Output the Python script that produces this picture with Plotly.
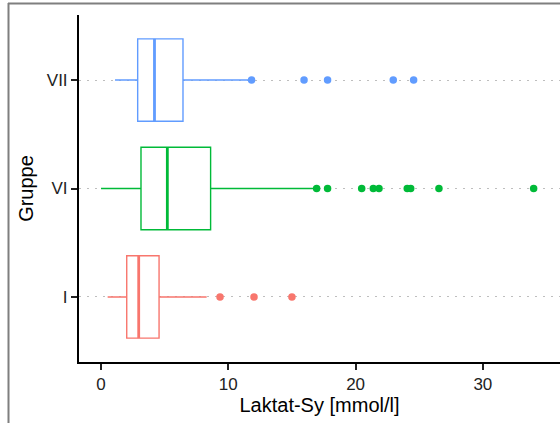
import plotly.graph_objects as go

groups = ["I", "VI", "VII"]
colors = ["#F8766D", "#00BA38", "#619CFF"]
lower_whisker = [0.52, 0.0, 1.1]
q1 = [2.02, 3.14, 2.88]
median = [2.96, 5.21, 4.2]
q3 = [4.56, 8.61, 6.44]
upper_whisker = [8.3, 16.75, 11.7]
outliers = [
    [9.35, 12.02, 15.0],
    [16.94, 17.8, 20.48, 21.39, 21.84, 24.06, 24.33, 26.55, 33.99],
    [11.83, 15.95, 17.8, 22.96, 24.56],
]

W, H = 560, 423
L, R, T, B = 79, 0, 15, 61
pw, ph = W - L - R, H - T - B
half = 0.38

fig = go.Figure()
for i, g in enumerate(groups):
    pos = i + 1
    fig.add_trace(go.Box(
        y=[pos], q1=[q1[i]], median=[median[i]], q3=[q3[i]],
        lowerfence=[lower_whisker[i]], upperfence=[upper_whisker[i]],
        orientation="h", width=2 * half, whiskerwidth=0,
        fillcolor="white", line=dict(color=colors[i], width=1.4),
        boxpoints=False, showlegend=False, hoverinfo="skip",
    ))
    fig.add_trace(go.Scatter(
        x=[median[i], median[i]], y=[pos - half, pos + half],
        mode="lines", line=dict(color=colors[i], width=2.8),
        showlegend=False, hoverinfo="skip",
    ))
    fig.add_trace(go.Scatter(
        x=outliers[i], y=[pos] * len(outliers[i]),
        mode="markers", marker=dict(color=colors[i], size=7.5),
        showlegend=False, hoverinfo="skip",
    ))

def px_x(px):
    return (px - L) / pw

def px_y(py):
    return (H - B - py) / ph

fig.update_layout(
    width=W, height=H,
    margin=dict(l=L, r=R, t=T, b=B),
    plot_bgcolor="white", paper_bgcolor="white",
    font=dict(family="Liberation Sans, Arial, sans-serif", color="#1a1a1a"),
    xaxis=dict(
        range=[-1.73, 36.06], tickvals=[0, 10, 20, 30],
        showgrid=False, zeroline=False,
        showline=True, linecolor="black", linewidth=2,
        ticks="outside", ticklen=6, tickwidth=1.5, tickcolor="#222222",
        tickfont=dict(size=17, color="#222222"),
        title=dict(text="Laktat-Sy [mmol/l]", font=dict(size=20, color="black"), standoff=4),
    ),
    yaxis=dict(
        range=[0.4, 3.6], tickvals=[1, 2, 3], ticktext=groups,
        showgrid=True, gridcolor="#BEBEBE", gridwidth=1.3, griddash="1.5px,6.5px",
        zeroline=False,
        showline=True, linecolor="black", linewidth=2,
        ticks="outside", ticklen=6, tickwidth=1.5, tickcolor="#222222",
        tickfont=dict(size=17, color="#222222"),
        title=dict(text="Gruppe", font=dict(size=20, color="black"), standoff=8),
    ),
    shapes=[
        dict(type="line", xref="paper", yref="paper",
             x0=px_x(8), x1=px_x(560), y0=px_y(3.5), y1=px_y(3.5),
             line=dict(color="#7f7f7f", width=2)),
        dict(type="line", xref="paper", yref="paper",
             x0=px_x(8.5), x1=px_x(8.5), y0=px_y(3), y1=px_y(423),
             line=dict(color="#7f7f7f", width=2)),
    ],
)

fig.write_html("out.html")
